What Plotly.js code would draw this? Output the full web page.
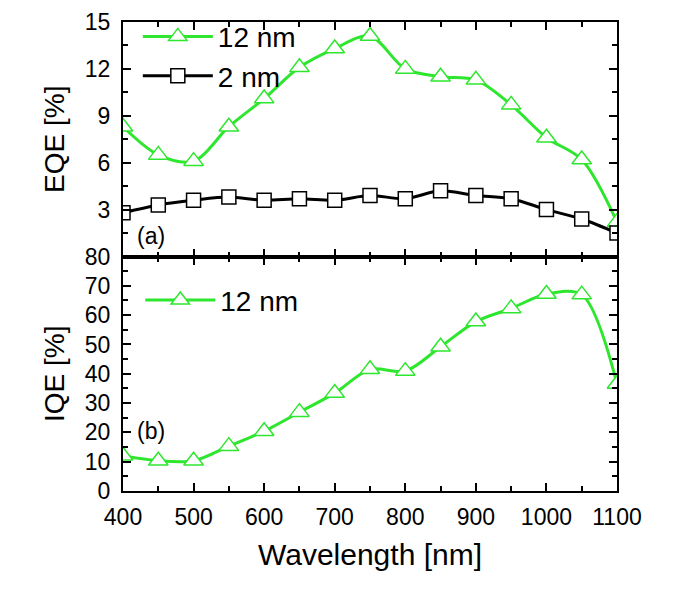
<!DOCTYPE html>
<html><head><meta charset="utf-8">
<script src="https://cdn.plot.ly/plotly-3.0.1.min.js"></script>
<style>body{margin:0;background:#fff}#chart{width:685px;height:599px}</style>
</head><body><div id="chart"></div>
<script>
const wavelength = [400,450,500,550,600,650,700,750,800,850,900,950,1000,1050,1100];
const eqe12 = [8.3,6.5,6.1,8.3,10.1,12.1,13.3,14.1,12.0,11.5,11.3,9.7,7.6,6.2,2.2];
const eqe2 = [2.8,3.3,3.6,3.8,3.6,3.7,3.6,3.9,3.7,4.2,3.9,3.7,3.0,2.4,1.5];
const iqe12 = [12,10.3,10.3,15.3,20.4,26.9,33.4,41.5,40.9,49.2,57.8,62.3,67.2,67.0,36.5];
const eqeTicks = [0,3,6,9,12,15];
const eqeTickText = ['','3','6','9','12','15'];
const iqeTicks = [0,10,20,30,40,50,60,70,80];
const xTicks = [400,500,600,700,800,900,1000,1100];

const green = '#2ee62e';
const font = 'Liberation Sans, Arial, sans-serif';
const traces = [
  {x: wavelength, y: eqe12, name: '12 nm', xaxis: 'x2', yaxis: 'y2', mode: 'lines+markers',
   line: {color: green, width: 3, shape: 'spline', smoothing: 0.9},
   marker: {symbol: 'triangle-up', size: 17, color: 'white', line: {color: green, width: 1.5}}, legend: 'legend'},
  {x: wavelength, y: eqe2, name: '2 nm', xaxis: 'x2', yaxis: 'y2', mode: 'lines+markers',
   line: {color: 'black', width: 3, shape: 'spline', smoothing: 0.9},
   marker: {symbol: 'square', size: 14, color: 'white', line: {color: 'black', width: 1.5}}, legend: 'legend'},
  {x: wavelength, y: iqe12, name: '12 nm', xaxis: 'x', yaxis: 'y', mode: 'lines+markers',
   line: {color: green, width: 3, shape: 'spline', smoothing: 0.9},
   marker: {symbol: 'triangle-up', size: 17, color: 'white', line: {color: green, width: 1.5}}, legend: 'legend2'}
];
const axBase = {showline: true, linecolor: 'black', linewidth: 2, mirror: 'ticks', ticks: 'inside',
  ticklen: 8, tickwidth: 2, tickcolor: 'black', showgrid: false, zeroline: false,
  tickfont: {family: font, size: 23, color: 'black'}};
const layout = {
  width: 685, height: 599, paper_bgcolor: 'white', plot_bgcolor: 'white',
  margin: {l: 123, r: 68, t: 20, b: 108},
  showlegend: true,
  xaxis: Object.assign({}, axBase, {domain: [0,1], range: [400,1100], tickvals: xTicks, anchor: 'y',
    ticklabelstandoff: 4,
    minor: {ticks: 'inside', ticklen: 5, tickwidth: 2, dtick: 50, tick0: 0, tickcolor: 'black'},
    title: {text: 'Wavelength [nm]', font: {family: font, size: 30, color: 'black'}, standoff: 15}}),
  yaxis: Object.assign({}, axBase, {domain: [0,0.5], range: [0,80], tickvals: iqeTicks, anchor: 'x',
    ticklabelstandoff: 6,
    minor: {ticks: 'inside', ticklen: 5, tickwidth: 2, dtick: 5, tick0: 0, tickcolor: 'black'},
    title: {text: 'IQE [%]', font: {family: font, size: 28, color: 'black'}, standoff: 12}}),
  xaxis2: Object.assign({}, axBase, {domain: [0,1], range: [400,1100], tickvals: xTicks, anchor: 'y2',
    showticklabels: false, matches: 'x',
    minor: {ticks: 'inside', ticklen: 5, tickwidth: 2, dtick: 50, tick0: 0, tickcolor: 'black'}}),
  yaxis2: Object.assign({}, axBase, {domain: [0.5,1], range: [0,15], tickvals: eqeTicks, ticktext: eqeTickText, anchor: 'x2',
    ticklabelstandoff: 6,
    minor: {ticks: 'inside', ticklen: 5, tickwidth: 2, dtick: 1.5, tick0: 0, tickcolor: 'black'},
    title: {text: 'EQE [%]', font: {family: font, size: 28, color: 'black'}, standoff: 12}}),
  legend: {x: 0.03, y: 1.022, xanchor: 'left', yanchor: 'top', bgcolor: 'rgba(0,0,0,0)',
    font: {family: font, size: 28, color: 'black'}, itemwidth: 70, tracegroupgap: 0},
  legend2: {x: 0.035, y: 0.46, xanchor: 'left', yanchor: 'top', bgcolor: 'rgba(0,0,0,0)',
    font: {family: font, size: 28, color: 'black'}, itemwidth: 70},
  annotations: [
    {text: '(a)', xref: 'paper', yref: 'paper', x: 0.025, y: 0.512, xanchor: 'left', yanchor: 'bottom', showarrow: false,
     font: {family: font, size: 23, color: 'black'}},
    {text: '(b)', xref: 'paper', yref: 'paper', x: 0.025, y: 0.097, xanchor: 'left', yanchor: 'bottom', showarrow: false,
     font: {family: font, size: 23, color: 'black'}}
  ]
};
Plotly.newPlot('chart', traces, layout, {displayModeBar: false, staticPlot: true});
</script></body></html>
